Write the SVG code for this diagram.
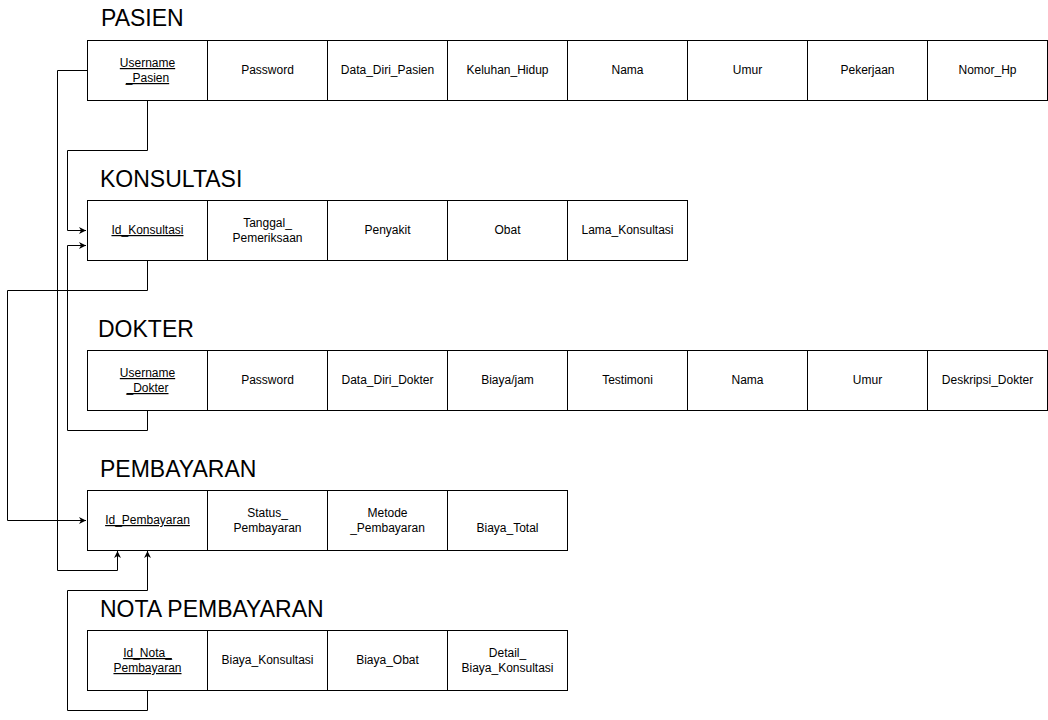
<svg xmlns="http://www.w3.org/2000/svg" width="1048" height="720" viewBox="0 0 1048 720">
<style>
.c{fill:#fff;stroke:#000;stroke-width:1}
.t{font-family:"Liberation Sans",Arial,sans-serif;font-size:12px;fill:#000;text-anchor:middle}
.k{text-decoration:underline}
.h{font-family:"Liberation Sans",Arial,sans-serif;font-size:23px;fill:#000}
.e{fill:none;stroke:#000;stroke-width:1}
</style>
<defs>
<marker id="a" markerWidth="8" markerHeight="8" refX="7" refY="4" orient="auto" markerUnits="userSpaceOnUse">
<path d="M0,0.5 L7,4 L0,7.5 L2,4 Z" fill="#000"/>
</marker>
</defs>
<rect width="1048" height="720" fill="#fff"/>
<g id="connectors">
<path class="e" d="M87.5,70.5 H57.5 V570.5 H117.5 V551" marker-end="url(#a)"/>
<path class="e" d="M147.5,100.5 V150.5 H67.5 V230.5 H86" marker-end="url(#a)"/>
<path class="e" d="M147.5,410.5 V430.5 H67.5 V245.5 H86" marker-end="url(#a)"/>
<path class="e" d="M147.5,260.5 V290.5 H7.5 V520.5 H86" marker-end="url(#a)"/>
<path class="e" d="M147.5,690.5 V710.5 H67.5 V590.5 H147.5 V551" marker-end="url(#a)"/>
</g>
<g id="pasien">
<text class="h" x="101" y="26">PASIEN</text>
<rect class="c" x="87.5" y="40.5" width="120" height="60"/>
<rect class="c" x="207.5" y="40.5" width="120" height="60"/>
<rect class="c" x="327.5" y="40.5" width="120" height="60"/>
<rect class="c" x="447.5" y="40.5" width="120" height="60"/>
<rect class="c" x="567.5" y="40.5" width="120" height="60"/>
<rect class="c" x="687.5" y="40.5" width="120" height="60"/>
<rect class="c" x="807.5" y="40.5" width="120" height="60"/>
<rect class="c" x="927.5" y="40.5" width="120" height="60"/>
<text class="t k" x="147.5" y="67">Username</text>
<text class="t k" x="147.5" y="82">_Pasien</text>
<text class="t" x="267.5" y="74">Password</text>
<text class="t" x="387.5" y="74">Data_Diri_Pasien</text>
<text class="t" x="507.5" y="74">Keluhan_Hidup</text>
<text class="t" x="627.5" y="74">Nama</text>
<text class="t" x="747.5" y="74">Umur</text>
<text class="t" x="867.5" y="74">Pekerjaan</text>
<text class="t" x="987.5" y="74">Nomor_Hp</text>
</g>
<g id="konsultasi">
<text class="h" x="100" y="187">KONSULTASI</text>
<rect class="c" x="87.5" y="200.5" width="120" height="60"/>
<rect class="c" x="207.5" y="200.5" width="120" height="60"/>
<rect class="c" x="327.5" y="200.5" width="120" height="60"/>
<rect class="c" x="447.5" y="200.5" width="120" height="60"/>
<rect class="c" x="567.5" y="200.5" width="120" height="60"/>
<text class="t k" x="147.5" y="234">Id_Konsultasi</text>
<text class="t" x="267.5" y="227">Tanggal_</text>
<text class="t" x="267.5" y="242">Pemeriksaan</text>
<text class="t" x="387.5" y="234">Penyakit</text>
<text class="t" x="507.5" y="234">Obat</text>
<text class="t" x="627.5" y="234">Lama_Konsultasi</text>
</g>
<g id="dokter">
<text class="h" x="98" y="337">DOKTER</text>
<rect class="c" x="87.5" y="350.5" width="120" height="60"/>
<rect class="c" x="207.5" y="350.5" width="120" height="60"/>
<rect class="c" x="327.5" y="350.5" width="120" height="60"/>
<rect class="c" x="447.5" y="350.5" width="120" height="60"/>
<rect class="c" x="567.5" y="350.5" width="120" height="60"/>
<rect class="c" x="687.5" y="350.5" width="120" height="60"/>
<rect class="c" x="807.5" y="350.5" width="120" height="60"/>
<rect class="c" x="927.5" y="350.5" width="120" height="60"/>
<text class="t k" x="147.5" y="377">Username</text>
<text class="t k" x="147.5" y="392">_Dokter</text>
<text class="t" x="267.5" y="384">Password</text>
<text class="t" x="387.5" y="384">Data_Diri_Dokter</text>
<text class="t" x="507.5" y="384">Biaya/jam</text>
<text class="t" x="627.5" y="384">Testimoni</text>
<text class="t" x="747.5" y="384">Nama</text>
<text class="t" x="867.5" y="384">Umur</text>
<text class="t" x="987.5" y="384">Deskripsi_Dokter</text>
</g>
<g id="pembayaran">
<text class="h" x="100" y="477">PEMBAYARAN</text>
<rect class="c" x="87.5" y="490.5" width="120" height="60"/>
<rect class="c" x="207.5" y="490.5" width="120" height="60"/>
<rect class="c" x="327.5" y="490.5" width="120" height="60"/>
<rect class="c" x="447.5" y="490.5" width="120" height="60"/>
<text class="t k" x="147.5" y="524">Id_Pembayaran</text>
<text class="t" x="267.5" y="517">Status_</text>
<text class="t" x="267.5" y="532">Pembayaran</text>
<text class="t" x="387.5" y="517">Metode</text>
<text class="t" x="387.5" y="532">_Pembayaran</text>
<text class="t" x="507.5" y="532">Biaya_Total</text>
</g>
<g id="nota-pembayaran">
<text class="h" x="100" y="617">NOTA PEMBAYARAN</text>
<rect class="c" x="87.5" y="630.5" width="120" height="60"/>
<rect class="c" x="207.5" y="630.5" width="120" height="60"/>
<rect class="c" x="327.5" y="630.5" width="120" height="60"/>
<rect class="c" x="447.5" y="630.5" width="120" height="60"/>
<text class="t k" x="147.5" y="657">Id_Nota_</text>
<text class="t k" x="147.5" y="672">Pembayaran</text>
<text class="t" x="267.5" y="664">Biaya_Konsultasi</text>
<text class="t" x="387.5" y="664">Biaya_Obat</text>
<text class="t" x="507.5" y="657">Detail_</text>
<text class="t" x="507.5" y="672">Biaya_Konsultasi</text>
</g>
</svg>
